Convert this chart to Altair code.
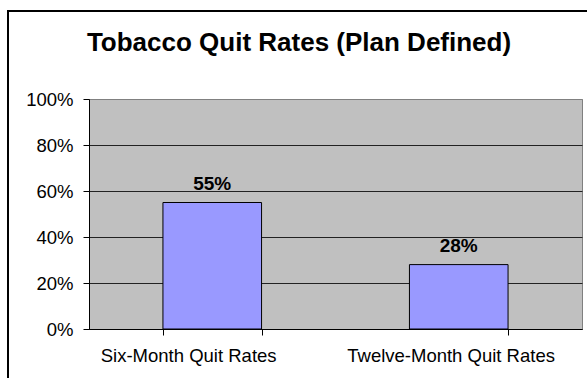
import altair as alt
import pandas as pd

categories = ["Six-Month Quit Rates", "Twelve-Month Quit Rates"]
values = [0.55, 0.28]
labels = ["55%", "28%"]
y_ticks = [0, 0.2, 0.4, 0.6, 0.8, 1.0]

df = pd.DataFrame({"cat": categories, "val": values, "lab": labels})

x_enc = alt.X("cat:N", sort=categories, title=None,
              scale=alt.Scale(paddingInner=0.6, paddingOuter=0.3),
              axis=alt.Axis(labelAngle=0, labelAlign="left", labelOffset=-112,
                            labelFont="Liberation Sans", labelFontSize=18.5,
                            labelColor="#000", labelPadding=11, labelLimit=0,
                            tickBand="extent", tickExtra=True, tickSize=6,
                            tickColor="#000", domainColor="#000", grid=False))
y_enc = alt.Y("val:Q", title=None,
              scale=alt.Scale(domain=[0, 1]),
              axis=alt.Axis(values=y_ticks, format=".0%",
                            labelFont="Liberation Sans", labelFontSize=18.5,
                            labelColor="#000", labelPadding=10, tickSize=6,
                            tickColor="#000", domainColor="#000",
                            grid=True,
                            gridColor=alt.condition("datum.value == 1",
                                                    alt.value("#808080"),
                                                    alt.value("#222222")),
                            gridWidth=1))

base = alt.Chart(df)

bars = base.mark_bar(color="#9999FF", stroke="#000", strokeWidth=1).encode(
    x=x_enc, y=y_enc)

text = base.mark_text(font="Liberation Sans", fontSize=19, fontWeight="bold",
                      dy=-13, baseline="alphabetic", color="#000").encode(
    x=alt.X("cat:N", sort=categories), y="val:Q", text="lab:N")

border = alt.Chart(alt.Data(values=[{}])).mark_rect(
    fill=None, stroke="#000", strokeWidth=2, clip=False).encode(
    x=alt.value(-81), y=alt.value(-88), x2=alt.value(620), y2=alt.value(420))

chart = alt.layer(bars, text, border).properties(
    width=493, height=230,
    padding={"left": 89, "top": 99, "right": 5, "bottom": 49},
    autosize=alt.AutoSizeParams(type="none"),
    background="white",
    title=alt.TitleParams("Tobacco Quit Rates (Plan Defined)",
                          font="Liberation Sans", fontSize=26,
                          fontWeight="bold", color="#000",
                          anchor="middle", frame="group", dx=-36.5,
                          baseline="alphabetic", offset=-67),
).configure_view(fill="#C0C0C0", stroke="#808080", strokeWidth=1)

chart.save("out.html", embed_options={"renderer": "svg", "actions": False})
